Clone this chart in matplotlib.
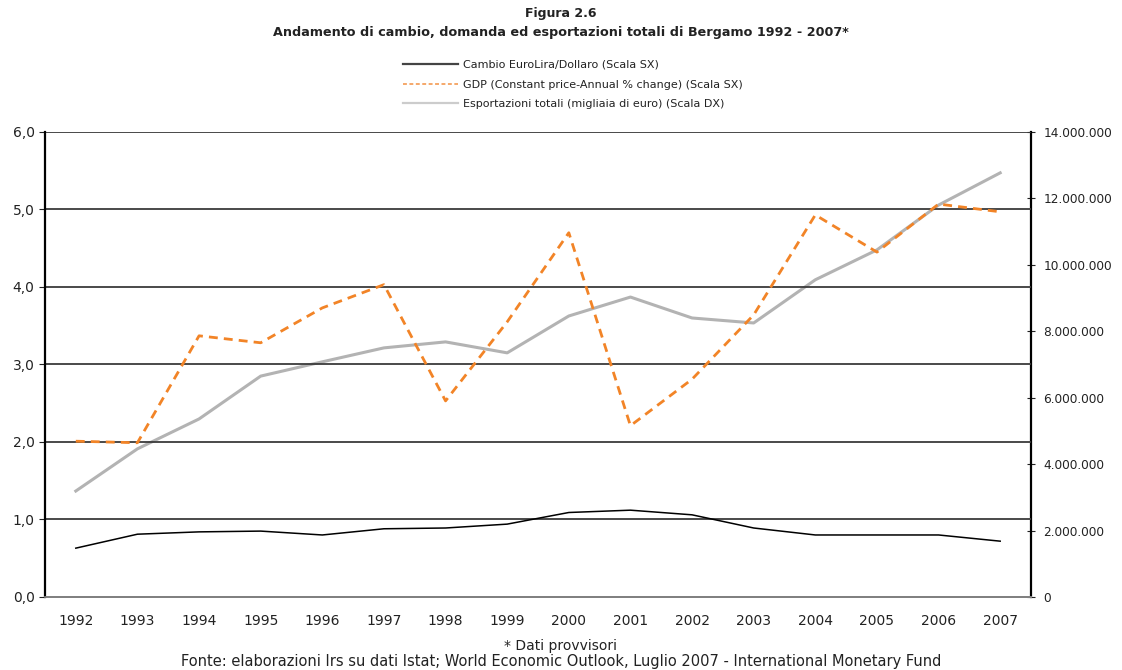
import numpy as np
import matplotlib.pyplot as plt
from matplotlib.ticker import FuncFormatter
from matplotlib.lines import Line2D

years = ['1992', '1993', '1994', '1995', '1996', '1997', '1998', '1999',
         '2000', '2001', '2002', '2003', '2004', '2005', '2006', '2007']
cambio = [0.63, 0.81, 0.84, 0.85, 0.80, 0.88, 0.89, 0.94,
          1.09, 1.12, 1.06, 0.89, 0.80, 0.80, 0.80, 0.72]
gdp = [2.01, 1.99, 3.37, 3.28, 3.73, 4.03, 2.53, 3.55,
       4.70, 2.21, 2.81, 3.64, 4.93, 4.45, 5.07, 4.97]
export = [3190000, 4460000, 5360000, 6650000, 7080000, 7500000, 7680000, 7350000,
          8460000, 9030000, 8400000, 8250000, 9550000, 10450000, 11800000, 12770000]

labels = ['Cambio EuroLira/Dollaro (Scala SX)',
          'GDP (Constant price-Annual % change) (Scala SX)',
          'Esportazioni totali (migliaia di euro) (Scala DX)']

narrow = ['DejaVu Sans Condensed', 'Liberation Sans Narrow', 'DejaVu Sans']

fig = plt.figure(figsize=(11.22, 6.7), dpi=100)
ax = fig.add_axes([0.0401, 0.109, 0.8788, 0.694])
ax2 = ax.twinx()

x = np.arange(len(years))
ax2.plot(x, export, color='#b3b3b3', lw=2.2, zorder=2)
ax.plot(x, cambio, color='black', lw=1.1, zorder=3)
ax.plot(x, gdp, color='#f28427', lw=2.0, ls=(0, (3.2, 2.2)), zorder=4)
ax.set_zorder(ax2.get_zorder() + 1)
ax.patch.set_visible(False)

ax.set_xlim(-0.5, len(years) - 0.5)
ax.set_ylim(0, 6)
ax2.set_ylim(0, 14000000)
ax.set_xticks(x, years)
ax.set_yticks(np.arange(0, 7, 1))
ax.yaxis.set_major_formatter(FuncFormatter(lambda v, p: f'{v:.1f}'.replace('.', ',')))
ax2.set_yticks(np.arange(0, 14000001, 2000000))
ax2.yaxis.set_major_formatter(FuncFormatter(lambda v, p: f'{int(v):,}'.replace(',', '.')))

for v in range(1, 7):
    ax.axhline(v, color='#3a3a3a', lw=1.3, zorder=1)

for a in (ax, ax2):
    a.spines['top'].set_visible(False)
    a.spines['bottom'].set_color('#808080')
    a.spines['bottom'].set_linewidth(1.3)
    a.spines['left'].set_linewidth(1.6)
    a.spines['right'].set_linewidth(1.6)
ax2.spines['left'].set_visible(False)
ax.spines['right'].set_visible(False)

ax.tick_params(axis='x', length=0, pad=12, labelsize=10, colors='#222222')
ax.tick_params(axis='y', direction='out', length=4, labelsize=10, colors='#222222')
ax2.tick_params(axis='y', direction='inout', length=6, labelsize=8.7, colors='#222222', pad=6)

fig.text(0.5, 0.980, 'Figura 2.6', ha='center', va='center', fontsize=9, fontweight='bold', color='#222222')
fig.text(0.5, 0.951, 'Andamento di cambio, domanda ed esportazioni totali di Bergamo 1992 - 2007*',
         ha='center', va='center', fontsize=9.2, fontweight='bold', color='#222222')

# legend handles drawn thinner than the plotted lines, like the reference
handles = [Line2D([], [], color='#444444', lw=1.6),
           Line2D([], [], color='#f5a86a', lw=1.4, ls=(0, (2, 1.3))),
           Line2D([], [], color='#cccccc', lw=1.6)]
leg = fig.legend(handles, labels, loc='upper left', bbox_to_anchor=(0.351, 0.924),
                 frameon=False, handlelength=5.0, labelspacing=0.88, handletextpad=0.45,
                 borderpad=0.3, prop={'family': narrow, 'size': 8})
for t in leg.get_texts():
    t.set_color('#222222')

fig.text(0.5, 0.036, '* Dati provvisori', ha='center', va='center', fontsize=10,
         family=narrow, color='#222222')
fig.text(0.5, 0.013, 'Fonte: elaborazioni Irs su dati Istat; World Economic Outlook, Luglio 2007 - International Monetary Fund',
         ha='center', va='center', fontsize=10.5, family=narrow, color='#222222')

plt.savefig('out.png', dpi=100)
